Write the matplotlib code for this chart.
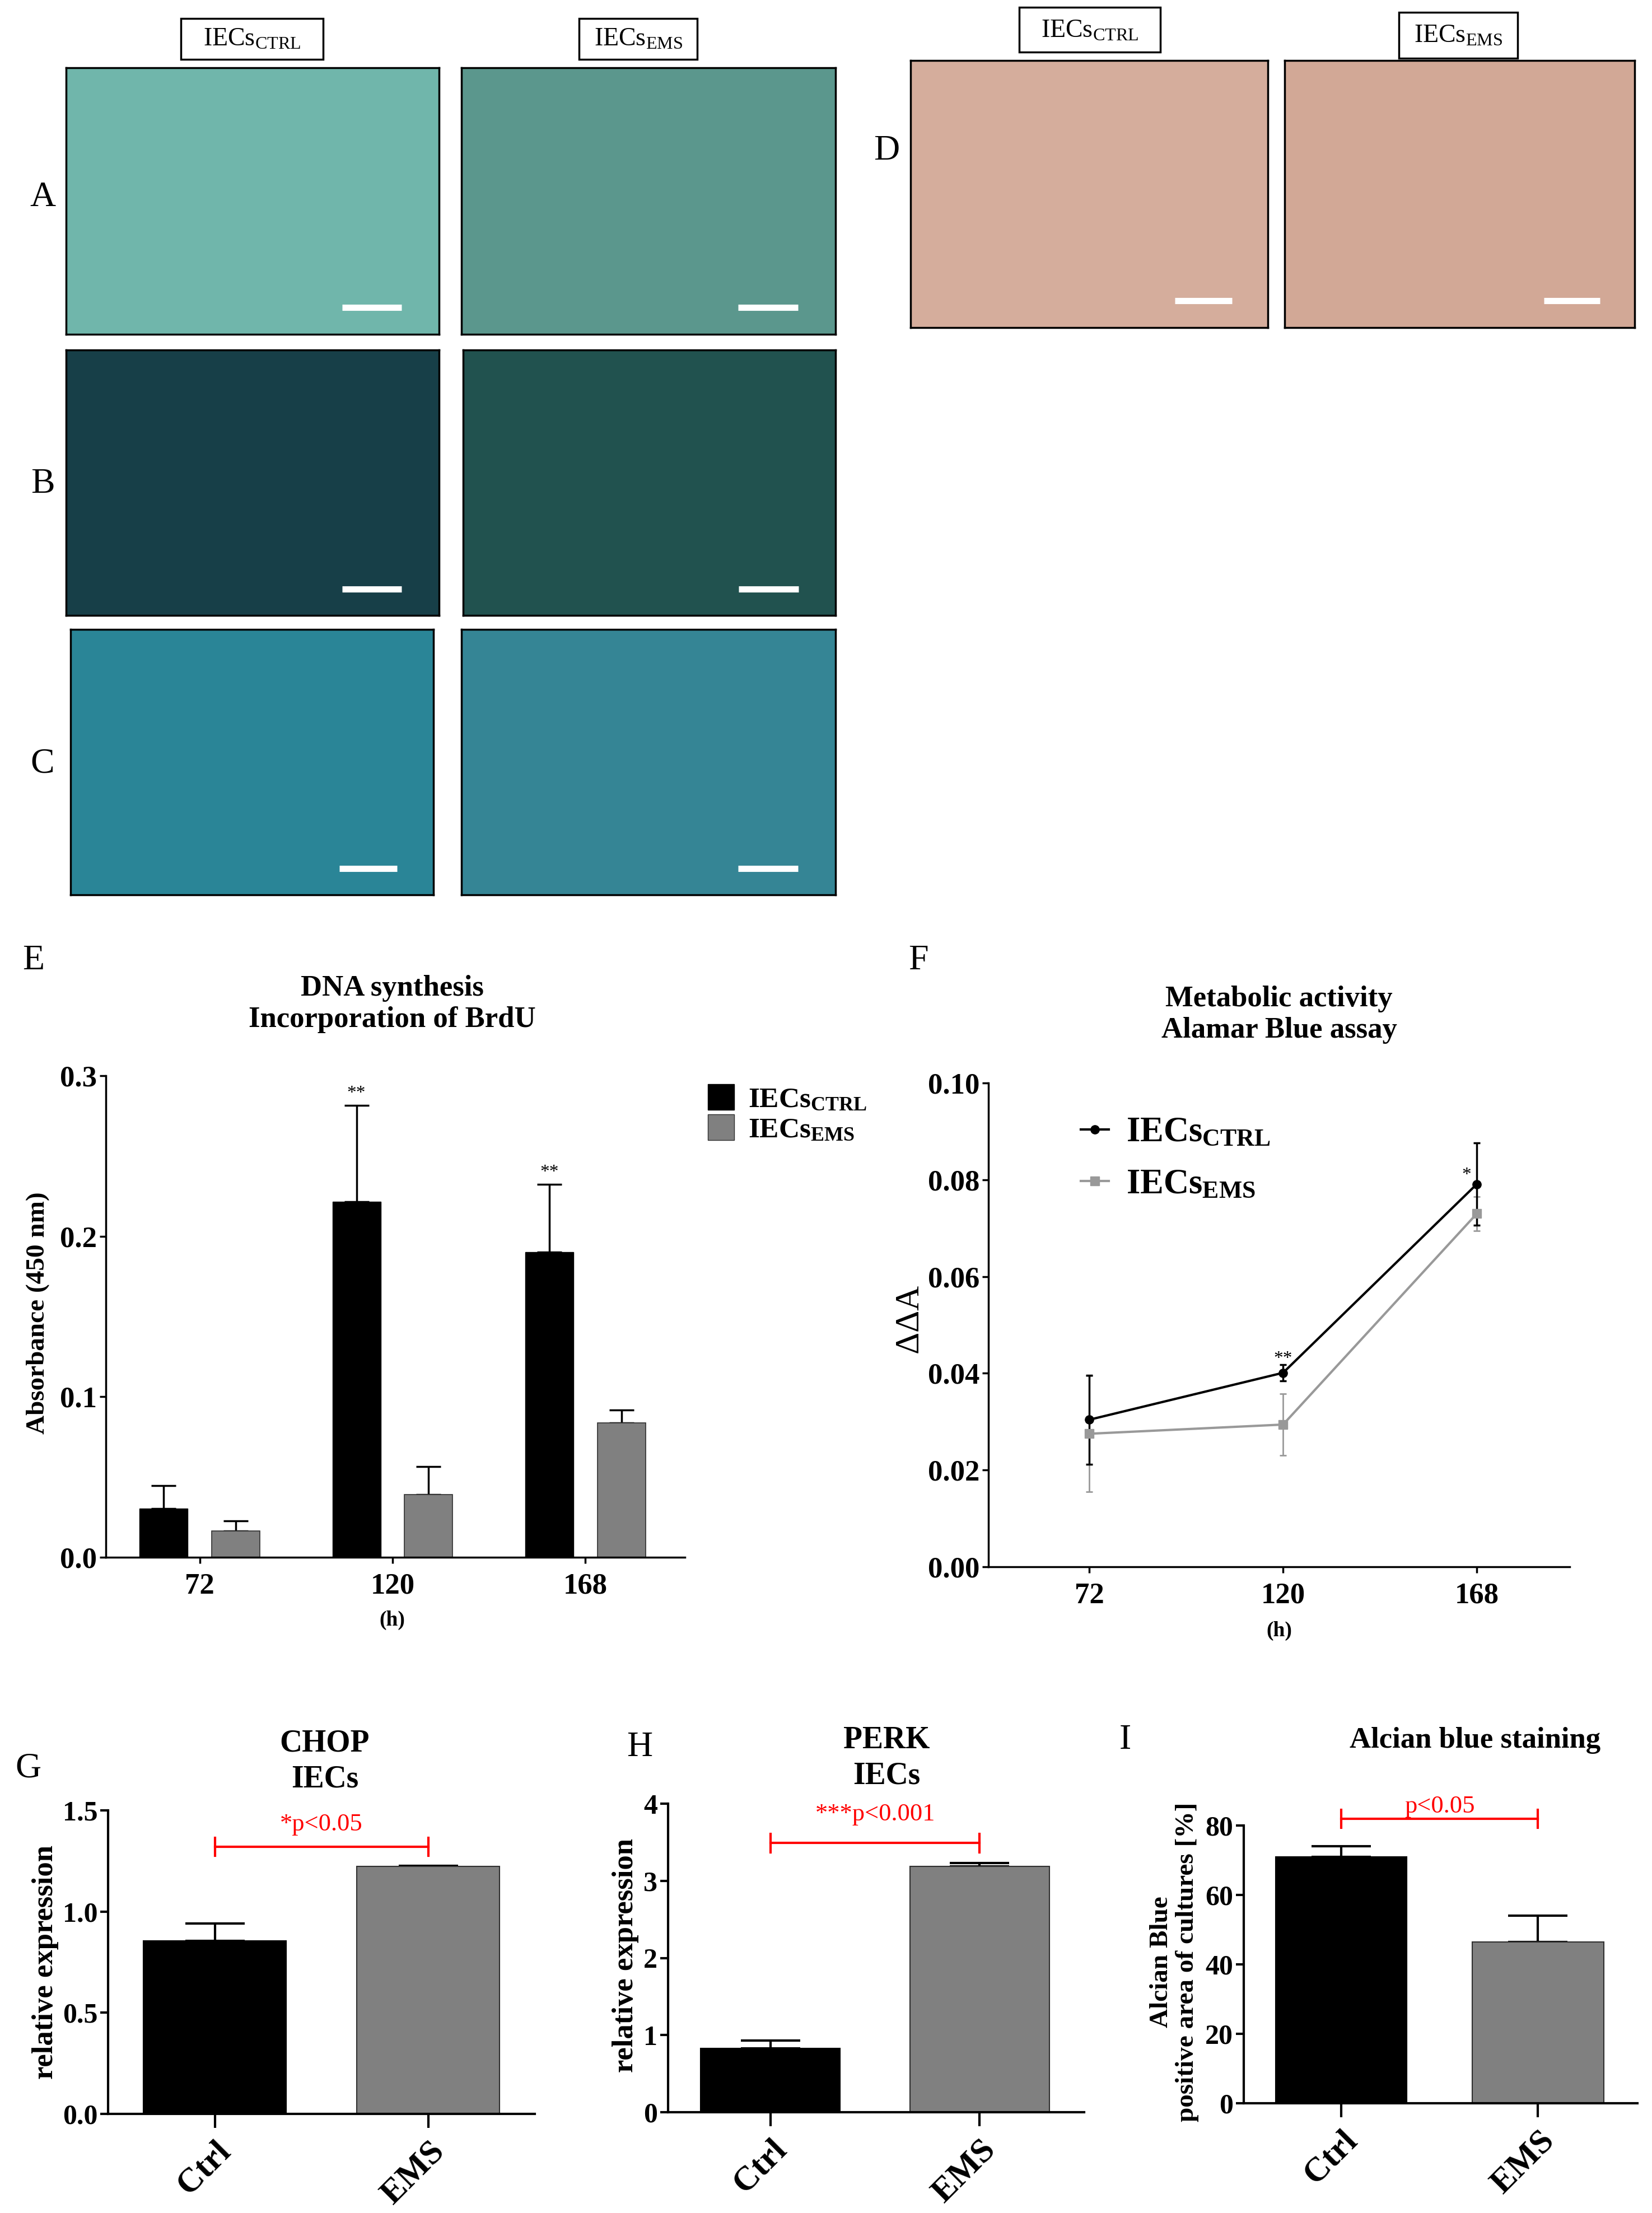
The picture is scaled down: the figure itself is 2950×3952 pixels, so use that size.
import numpy as np
import matplotlib
matplotlib.use("Agg")
import matplotlib.pyplot as plt
from matplotlib.patches import Rectangle, Patch
from matplotlib.lines import Line2D

plt.rcParams['font.family'] = ['Liberation Serif', 'DejaVu Serif']
plt.rcParams['mathtext.fontset'] = 'custom'
plt.rcParams['mathtext.rm'] = 'Liberation Serif'
plt.rcParams['mathtext.bf'] = 'Liberation Serif:bold'
plt.rcParams['mathtext.it'] = 'Liberation Serif:italic'

W, H = 2950, 3952

# ---- data ----
# E: BrdU incorporation
hours = ["72", "120", "168"]
brdu_ctrl = [0.0305, 0.2215, 0.1900]
brdu_ctrl_err = [0.0140, 0.0600, 0.0425]
brdu_ems = [0.0163, 0.0390, 0.0838]
brdu_ems_err = [0.0065, 0.0175, 0.0078]
brdu_stars = ["", "**", "**"]

# F: Alamar blue
hours_num = [72, 120, 168]
alamar_ctrl = [0.0304, 0.0401, 0.0791]
alamar_ctrl_err = [0.0092, 0.0017, 0.0085]
alamar_ems = [0.0275, 0.0294, 0.0730]
alamar_ems_err = [0.0120, 0.0064, 0.0035]

# G, H, I
groups = ["Ctrl", "EMS"]
chop = [0.855, 1.222]
chop_err = [0.085, 0.005]
perk = [0.83, 3.19]
perk_err = [0.10, 0.04]
alcian = [71.0, 46.4]
alcian_err = [3.0, 7.6]

# microscopy panel colours (approximate mean tone of each photo)
photo_colors = {"A1": "#70b6ab", "A2": "#5b978d", "B1": "#173f48",
                "B2": "#21524f", "C1": "#2a8597", "C2": "#358595",
                "D1": "#d5ad9c", "D2": "#d2a896"}

fig = plt.figure(figsize=(W / 100, H / 100), dpi=100)


def rect(l, t, r, b):
    return [l / W, 1 - b / H, (r - l) / W, (b - t) / H]


def ftext(x, y, s, **kw):
    fig.text(x / W, 1 - y / H, s, **kw)


def fbox(l, t, r, b):
    fig.patches.append(Rectangle((l / W, 1 - b / H), (r - l) / W, (b - t) / H,
                                 transform=fig.transFigure, fill=False,
                                 edgecolor="black", linewidth=2.5))


def photo(key, l, t, r, b, bar=True):
    ax = fig.add_axes(rect(l, t, r, b))
    ax.set_facecolor(photo_colors[key])
    ax.set_xlim(0, 1)
    ax.set_ylim(0, 1)
    ax.set_xticks([])
    ax.set_yticks([])
    for s in ax.spines.values():
        s.set_linewidth(2.5)
    if bar:
        ax.plot([0.74, 0.90], [0.10, 0.10], color="white", lw=8,
                solid_capstyle="butt")
    return ax


# ---- panels A-C ----
fbox(323, 33, 577, 106)
ftext(450, 70, r"IECs$_{\mathrm{CTRL}}$", ha="center", va="center", fontsize=33)
fbox(1034, 33, 1245, 106)
ftext(1140, 70, r"IECs$_{\mathrm{EMS}}$", ha="center", va="center", fontsize=33)

photo("A1", 118, 121, 784, 597)
photo("A2", 824, 121, 1492, 597)
photo("B1", 118, 625, 784, 1099)
photo("B2", 827, 625, 1492, 1099)
photo("C1", 126, 1124, 774, 1598)
photo("C2", 824, 1124, 1492, 1598)
for lab, y in zip(["A", "B", "C"], [353, 865, 1364]):
    ftext(76, y, lab, ha="center", va="center", fontsize=46)

# ---- panel D ----
fbox(1820, 13, 2072, 93)
ftext(1946, 55, r"IECs$_{\mathrm{CTRL}}$", ha="center", va="center", fontsize=33)
fbox(2498, 22, 2710, 104)
ftext(2604, 64, r"IECs$_{\mathrm{EMS}}$", ha="center", va="center", fontsize=33)
photo("D1", 1626, 108, 2264, 585)
photo("D2", 2294, 108, 2919, 585)
ftext(1583, 270, "D", ha="center", va="center", fontsize=46)


def style_axes(ax, lw=2.5):
    ax.spines["top"].set_visible(False)
    ax.spines["right"].set_visible(False)
    ax.spines["left"].set_linewidth(lw)
    ax.spines["bottom"].set_linewidth(lw)
    ax.tick_params(width=lw, length=8)
    for lab in ax.get_yticklabels() + ax.get_xticklabels():
        lab.set_fontweight("bold")


# ---- panel E ----
axE = fig.add_axes(rect(189, 1921, 1223, 2781))
x = np.arange(len(hours))
off, bw = 0.187, 0.25
axE.bar(x - off, brdu_ctrl, bw, color="black", edgecolor="black", zorder=2)
axE.bar(x + off, brdu_ems, bw, color="#808080", edgecolor="#303030",
        linewidth=1.2, zorder=2)
axE.errorbar(x - off, brdu_ctrl, yerr=[np.zeros(3), brdu_ctrl_err], fmt="none",
             ecolor="black", elinewidth=2.5, capsize=16, capthick=2.5, zorder=1)
axE.errorbar(x + off, brdu_ems, yerr=[np.zeros(3), brdu_ems_err], fmt="none",
             ecolor="black", elinewidth=2.5, capsize=16, capthick=2.5, zorder=1)
for xi, v, e, s in zip(x, brdu_ctrl, brdu_ctrl_err, brdu_stars):
    if s:
        axE.text(xi - off, v + e + 0.002, s, ha="center", va="bottom", fontsize=24)
axE.set_xlim(-0.487, 2.516)
axE.set_ylim(0, 0.3)
axE.set_yticks([0.0, 0.1, 0.2, 0.3])
axE.set_yticklabels(["0.0", "0.1", "0.2", "0.3"], fontsize=38)
axE.set_xticks(x)
axE.set_xticklabels(hours, fontsize=38)
axE.tick_params(axis="x", length=0, pad=12)
style_axes(axE)
ftext(700, 2893, "(h)", ha="center", va="center", fontsize=27, fontweight="bold")
ftext(68, 2345, "Absorbance (450 nm)", ha="center", va="center", rotation=90,
      fontsize=34, fontweight="bold")
ftext(700, 1793, "DNA synthesis\nIncorporation of BrdU", ha="center", va="center",
      fontsize=38, fontweight="bold", linespacing=1.2)
ftext(60, 1716, "E", ha="center", va="center", fontsize=46)
handles = [Patch(facecolor="black", edgecolor="black"),
           Patch(facecolor="#808080", edgecolor="#303030")]
fig.legend(handles, [r"IECs$_{\mathbf{CTRL}}$", r"IECs$_{\mathbf{EMS}}$"],
           loc="upper left", bbox_to_anchor=(1218 / W, 1 - 1890 / H),
           frameon=False, prop={"size": 37, "weight": "bold"},
           handlelength=0.9, handleheight=1.0, handletextpad=0.5,
           labelspacing=0.05)

# ---- panel F ----
axF = fig.add_axes(rect(1765, 1934, 2803, 2798))
axF.errorbar(hours_num, alamar_ems, yerr=alamar_ems_err, color="#999999",
             marker="s", markersize=12, lw=3, elinewidth=2, capsize=4,
             capthick=2, label=r"IECs$_{\mathbf{EMS}}$")
axF.errorbar(hours_num, alamar_ctrl, yerr=alamar_ctrl_err, color="black",
             marker="o", markersize=11, lw=3, elinewidth=2.5, capsize=4,
             capthick=2.5, label=r"IECs$_{\mathbf{CTRL}}$")
axF.text(120, 0.0412, "**", ha="center", va="bottom", fontsize=24)
axF.text(165.5, 0.0792, "*", ha="center", va="bottom", fontsize=24)
axF.set_xlim(47, 191)
axF.set_ylim(0, 0.10)
axF.set_yticks([0.0, 0.02, 0.04, 0.06, 0.08, 0.10])
axF.set_yticklabels(["0.00", "0.02", "0.04", "0.06", "0.08", "0.10"], fontsize=38)
axF.set_xticks(hours_num)
axF.set_xticklabels(hours, fontsize=38)
axF.tick_params(axis="x", length=0, pad=12)
style_axes(axF)
hF = [Line2D([], [], color="black", marker="o", markersize=11, lw=3),
      Line2D([], [], color="#999999", marker="s", markersize=12, lw=3)]
axF.legend(hF, [r"IECs$_{\mathbf{CTRL}}$", r"IECs$_{\mathbf{EMS}}$"],
           loc="upper left", bbox_to_anchor=(0.105, 0.995), frameon=False,
           prop={"size": 45, "weight": "bold"}, handlelength=0.8,
           handletextpad=0.5, labelspacing=0.55)
ftext(2284, 2912, "(h)", ha="center", va="center", fontsize=27, fontweight="bold")
ftext(1626, 2357, r"$\Delta\Delta$A", ha="center", va="center", rotation=90,
      fontsize=44)
ftext(2284, 1812, "Metabolic activity\nAlamar Blue assay", ha="center",
      va="center", fontsize=38, fontweight="bold", linespacing=1.2)
ftext(1640, 1716, "F", ha="center", va="center", fontsize=46)


# ---- panels G, H, I ----
def bar_panel(box, vals, errs, ylim, yticks, yticklabels, bracket_y, cap_h,
              ptext, ptext_y, xlim):
    ax = fig.add_axes(rect(*box))
    xb = np.arange(len(groups))
    ax.bar(xb, vals, 0.667, color=["black", "#808080"],
           edgecolor=["black", "#303030"], linewidth=1.5, zorder=2)
    ax.errorbar(xb, vals, yerr=[np.zeros(2), errs], fmt="none", ecolor="black",
                elinewidth=3, capsize=38, capthick=3, zorder=1)
    ax.plot([0, 1], [bracket_y, bracket_y], color="red", lw=3, clip_on=False)
    for xx in [0, 1]:
        ax.plot([xx, xx], [bracket_y - cap_h, bracket_y + cap_h], color="red",
                lw=3, clip_on=False)
    ax.text(0.5, ptext_y, ptext, color="red", ha="center", va="center",
            fontsize=32, clip_on=False)
    ax.set_xlim(*xlim)
    ax.set_ylim(*ylim)
    ax.set_yticks(yticks)
    ax.set_yticklabels(yticklabels, fontsize=36)
    ax.set_xticks(xb)
    ax.set_xticklabels(groups, fontsize=44, rotation=45, ha="right",
                       rotation_mode="anchor")
    style_axes(ax, lw=3)
    ax.tick_params(axis="x", length=18, width=3, pad=10)
    ax.tick_params(axis="y", length=10, width=3)
    return ax


bar_panel((193, 3233, 955, 3775), chop, chop_err, (0, 1.5),
          [0.0, 0.5, 1.0, 1.5], ["0.0", "0.5", "1.0", "1.5"],
          1.32, 0.045, "*p<0.05", 1.43, (-0.5, 1.5))
ftext(81, 3504, "relative expression", ha="center", va="center", rotation=90,
      fontsize=38, fontweight="bold")
ftext(580, 3145, "CHOP\nIECs", ha="center", va="center", fontsize=40,
      fontweight="bold", linespacing=1.3)
ftext(50, 3158, "G", ha="center", va="center", fontsize=46)

bar_panel((1193, 3221, 1936, 3772), perk, perk_err, (0, 4),
          [0, 1, 2, 3, 4], ["0", "1", "2", "3", "4"],
          3.49, 0.12, "***p<0.001", 3.86, (-0.49, 1.5))
ftext(1117, 3492, "relative expression", ha="center", va="center", rotation=90,
      fontsize=38, fontweight="bold")
ftext(1583, 3140, "PERK\nIECs", ha="center", va="center", fontsize=40,
      fontweight="bold", linespacing=1.3)
ftext(1142, 3121, "H", ha="center", va="center", fontsize=46)

bar_panel((2221, 3260, 2924, 3756), alcian, alcian_err, (0, 80),
          [0, 20, 40, 60, 80], ["0", "20", "40", "60", "80"],
          81.9, 2.6, "p<0.05", 85.5, (-0.495, 1.505))
ftext(2097, 3504, "Alcian Blue\npositive area of cultures [%]", ha="center",
      va="center", rotation=90, fontsize=34, fontweight="bold", linespacing=1.1)
ftext(2634, 3108, "Alcian blue staining", ha="center", va="center", fontsize=38,
      fontweight="bold")
ftext(2009, 3108, "I", ha="center", va="center", fontsize=46)

fig.savefig("out.png", dpi=100, facecolor="white")
